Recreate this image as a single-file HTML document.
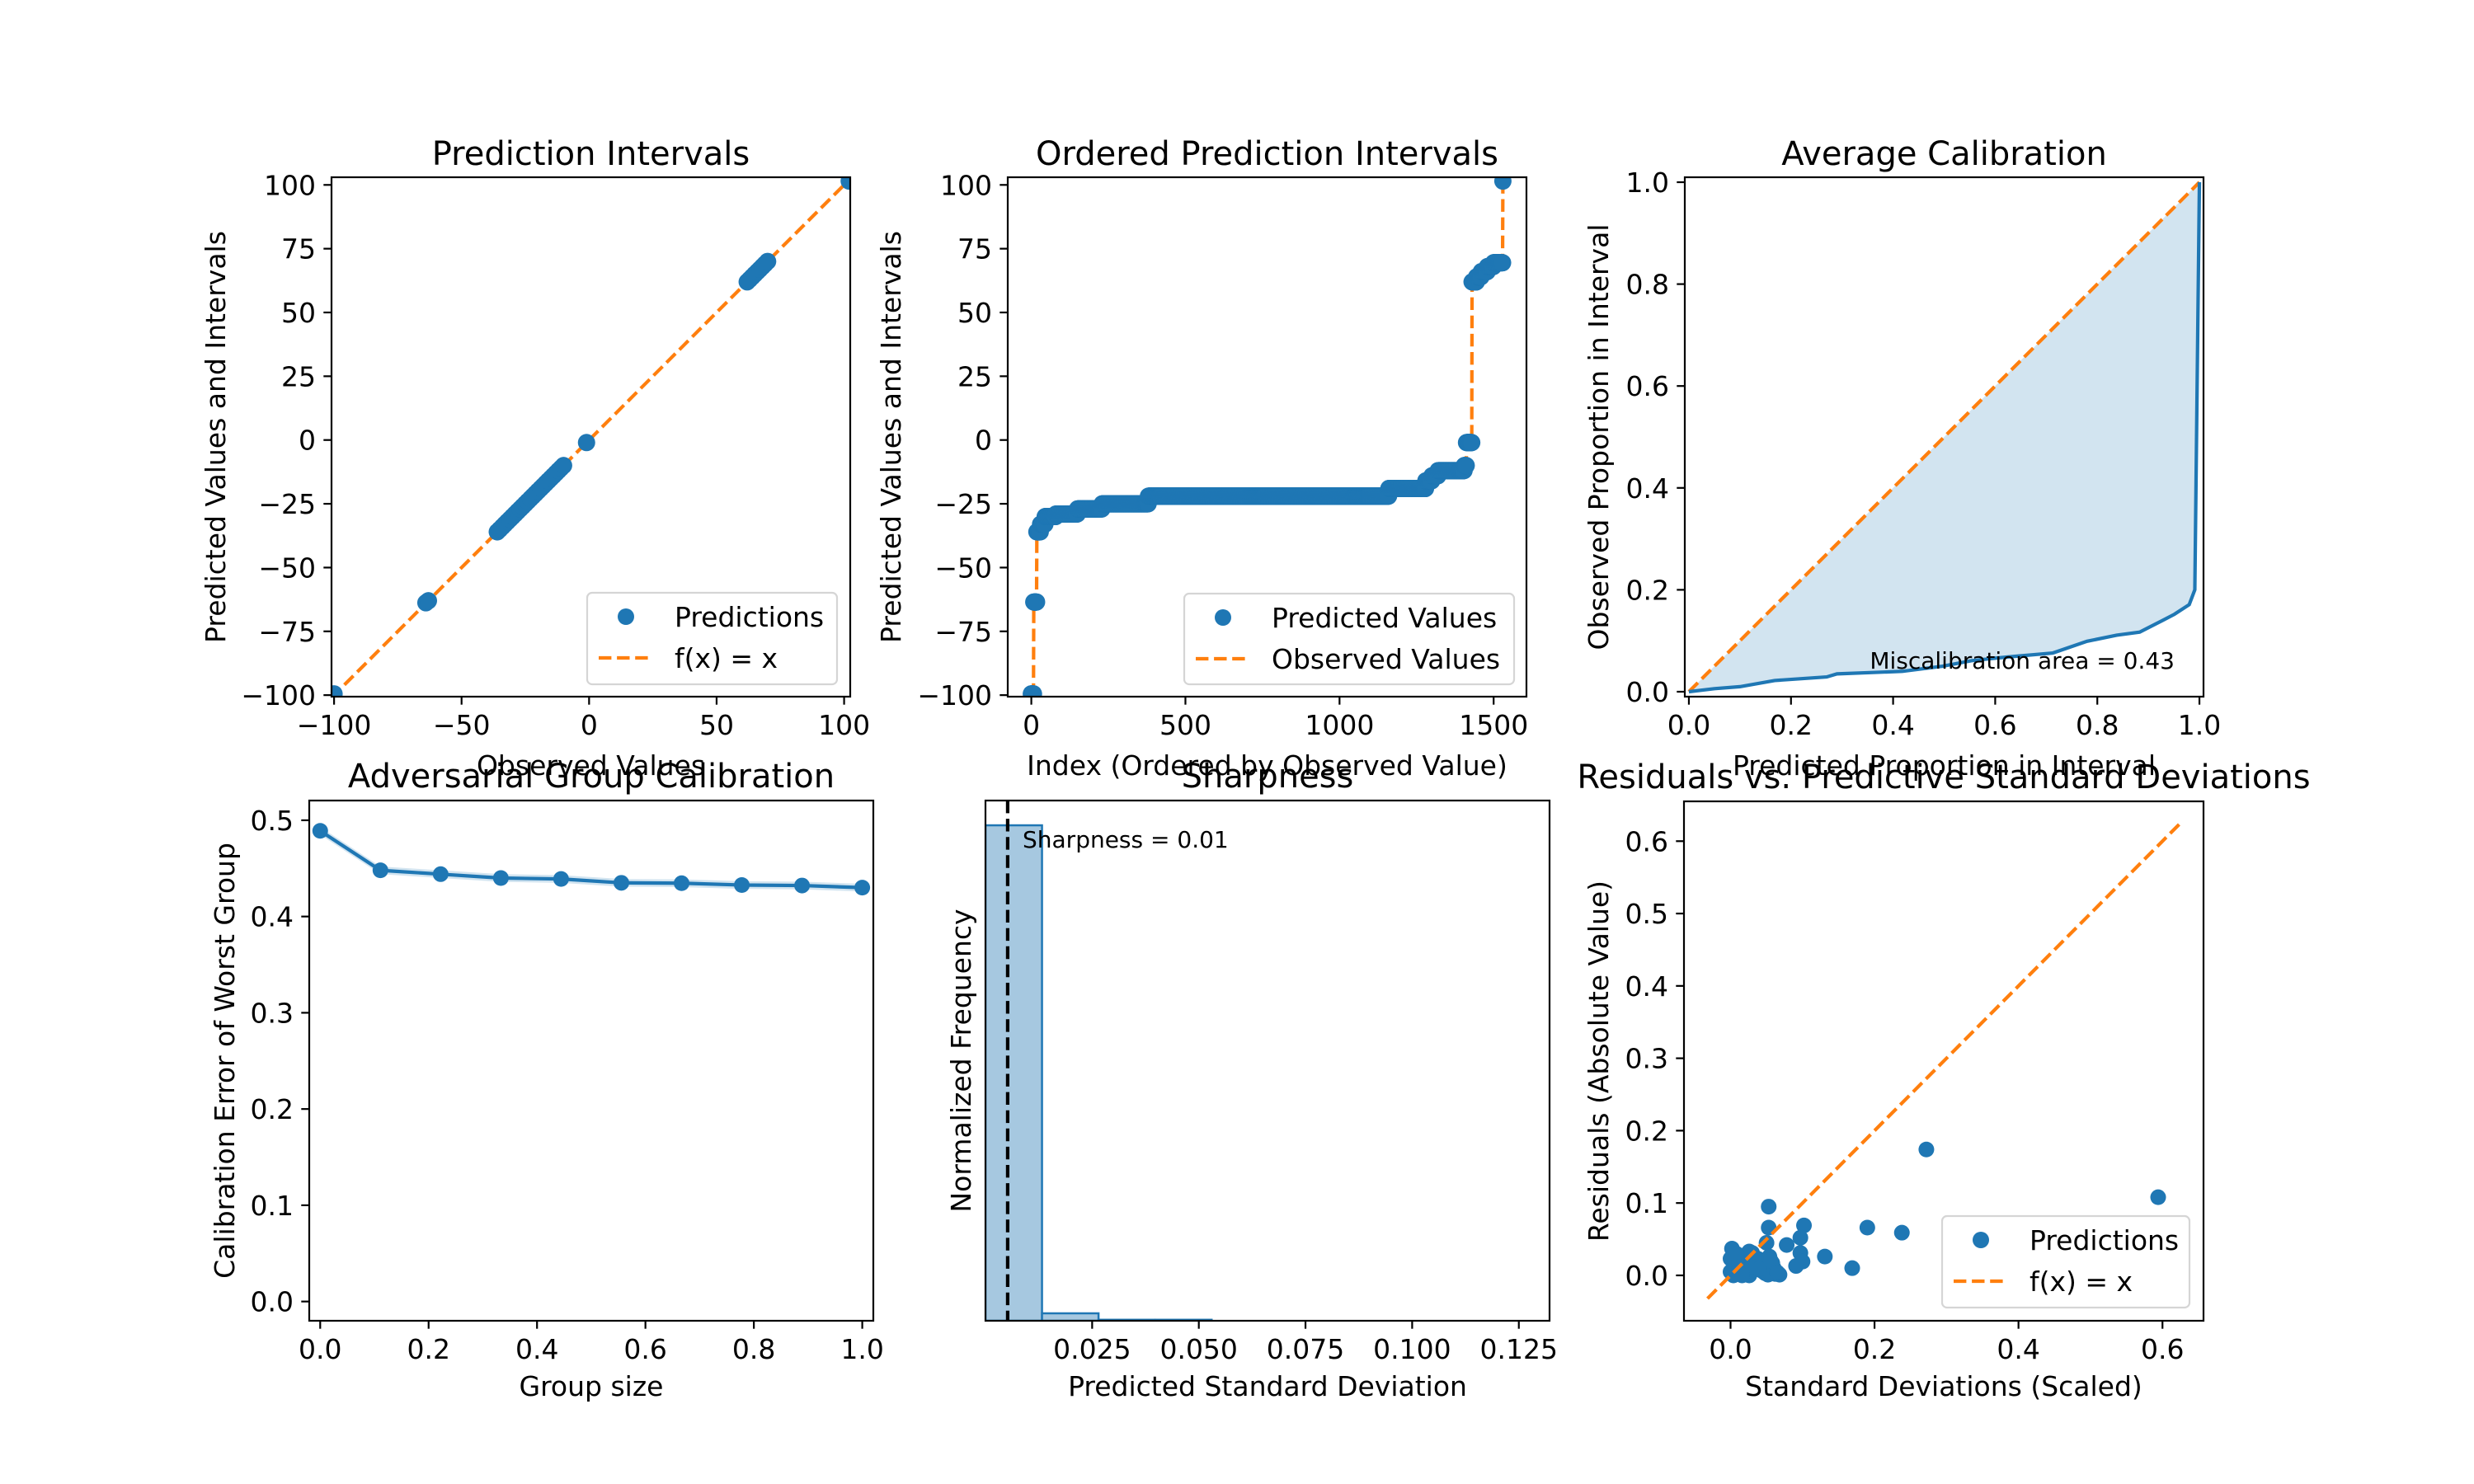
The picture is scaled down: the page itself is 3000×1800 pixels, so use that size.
<!DOCTYPE html>
<html><head><meta charset="utf-8"><title>Calibration diagnostics</title>
<style>
html,body{margin:0;padding:0;background:#fff;}
svg{display:block;font-family:"DejaVu Sans","Liberation Sans",sans-serif;}
</style></head>
<body>
<svg id="fig" xmlns="http://www.w3.org/2000/svg" width="3000" height="1800" viewBox="0 0 3000 1800">
<rect x="0" y="0" width="3000" height="1800" fill="#fff"/>
</svg>
<script>
// ---------- data ----------
const p1Observed = [-100,-64,-63,-36,-35,-34,-33,-32,-31,-30,-29,-28,-27,-26,-25,-24,-23,-22,-21,-20,-19,-18,-17,-16,-15,-14,-13,-12,-11,-10,-1,62,63,64,65,66,67,68,69,70,102];
const p1Predicted = [-99.5,-63.8,-63,-36,-35,-34,-33,-32,-31,-30,-29,-28,-27,-26,-25,-24,-23,-22,-21,-20,-19,-18,-17,-16,-15,-14,-13,-12,-11,-10,-1,62,63,64,65,66,67,68,69,70,101.5];
const p1XTicks = [-100,-50,0,50,100];
const p1YTicks = [-100,-75,-50,-25,0,25,50,75,100];
const p2RunStart = [0,8,18,30,45,80,150,230,380,1160,1280,1300,1320,1405,1412,1430,1445,1460,1480,1500,1530];
const p2RunEnd   = [7,17,29,44,79,149,229,379,1159,1279,1299,1319,1404,1411,1429,1444,1459,1479,1499,1529,1530];
const p2RunValue = [-99.5,-63.5,-36,-33,-30,-29,-27,-25,-22,-19,-16,-14,-12,-10,-1,62,64,66,68,69.5,101.5];
const p2XTicks = [0,500,1000,1500];
const p3Expected = [0,0.05,0.1,0.168,0.27,0.29,0.418,0.497,0.554,0.622,0.713,0.78,0.838,0.883,0.928,0.951,0.98,0.991,1.0];
const p3Observed = [0,0.006,0.0099,0.022,0.029,0.035,0.04,0.05,0.061,0.068,0.076,0.099,0.111,0.117,0.14,0.152,0.171,0.2,1.0];
const p3Ticks = [0,0.2,0.4,0.6,0.8,1.0];
const p4GroupSize = [0,0.1111,0.2222,0.3333,0.4444,0.5556,0.6667,0.7778,0.8889,1.0];
const p4CalError  = [0.489,0.448,0.444,0.440,0.439,0.435,0.4346,0.4327,0.4322,0.430];
const p4XTicks = [0,0.2,0.4,0.6,0.8,1.0];
const p4YTicks = [0,0.1,0.2,0.3,0.4,0.5];
const p5BinEdges = [0,0.01325,0.0265,0.03975,0.053,0.06625,0.0795,0.09275,0.106,0.11925,0.1325];
const p5Heights  = [1.0,0.015,0.002,0.002,0,0,0,0,0,0];
const p5Sharpness = 0.0052;
const p5XTicks = [0.025,0.050,0.075,0.100,0.125];
const p6Std = [0.272,0.594,0.19,0.238,0.131,0.169,0.102,0.097,0.097,0.1,0.091,0.078,0.053,0.053,0.05,0.002,0,0,0.004,0.014,0.022,0.026,0.03,0.038,0.046,0.054,0.058,0.062,0.068,0.052,0.01,0.034,0.018,0.042,0.006,0.026,0.048,0.06,0.012,0.036,0.02,0.044,0.008,0.03,0.056,0.065,0.016,0.04];
const p6Resid = [0.174,0.108,0.066,0.059,0.026,0.010,0.069,0.052,0.031,0.019,0.013,0.042,0.095,0.066,0.045,0.037,0.023,0.005,0.0,0.011,0.017,0.0,0.031,0.023,0.011,0.026,0.017,0.002,0.001,0.001,0.026,0.008,0.005,0.015,0.015,0.033,0.003,0.01,0.02,0.018,0.028,0.006,0.03,0.012,0.02,0.004,0.0,0.009];
const p6Ticks = [0,0.1,0.2,0.3,0.4,0.5,0.6];
const p6XTicks = [0,0.2,0.4,0.6];

// ---------- helpers ----------
const NS = "http://www.w3.org/2000/svg";
const svg = document.getElementById('fig');
const BLUE = "#1f77b4", ORANGE = "#ff7f0e";
const FT = 33, FTITLE = 40, FANN = 28;
function mk(parent, tag, attrs, name, inter) {
  const e = document.createElementNS(NS, tag);
  for (const k in attrs) e.setAttribute(k, attrs[k]);
  
  
  parent.appendChild(e);
  return e;
}
function txt(parent, x, y, s, size, anchor, name, extra) {
  const a = Object.assign({x:x, y:y, 'font-size':size, 'text-anchor':anchor||'middle', fill:'#000'}, extra||{});
  const t = mk(parent, 'text', a, name, false);
  t.textContent = s;
  return t;
}
function fmt(v, d) { const s = Math.abs(v).toFixed(d); return (v < 0 ? "\u2212" : "") + s; }
function axes(id, L, R, T, B, xlim, ylim) {
  const g = mk(svg, 'g', {}, id, false);
  const sx = v => L + (v - xlim[0]) / (xlim[1] - xlim[0]) * (R - L);
  const sy = v => B - (v - ylim[0]) / (ylim[1] - ylim[0]) * (B - T);
  const clipId = id + '-clip';
  const cp = mk(g, 'clipPath', {id: clipId}, id + '-clip-region', false);
  mk(cp, 'rect', {x:L, y:T, width:R-L, height:B-T}, id + '-clip-rect', false);
  const plot = mk(g, 'g', {'clip-path': 'url(#' + clipId + ')'}, id + '-plot-area', false);
  return {g, plot, sx, sy, L, R, T, B};
}
function frame(ax, id) {
  mk(ax.g, 'rect', {x:ax.L, y:ax.T, width:ax.R-ax.L, height:ax.B-ax.T, fill:'none', stroke:'#000', 'stroke-width':2.2}, id + '-frame', false);
}
function xticks(ax, ticks, dec, id) {
  ticks.forEach(v => {
    const x = ax.sx(v);
    mk(ax.g, 'line', {x1:x, x2:x, y1:ax.B, y2:ax.B+9.7, stroke:'#000', 'stroke-width':2.2}, id + '-x-tick', false);
    txt(ax.g, x, ax.B + 46, fmt(v, dec), FT, 'middle', id + '-x-tick-label');
  });
}
function yticks(ax, ticks, dec, id) {
  ticks.forEach(v => {
    const y = ax.sy(v);
    mk(ax.g, 'line', {x1:ax.L-9.7, x2:ax.L, y1:y, y2:y, stroke:'#000', 'stroke-width':2.2}, id + '-y-tick', false);
    txt(ax.g, ax.L - 19, y + 12, fmt(v, dec), FT, 'end', id + '-y-tick-label');
  });
}
function ylabel(ax, x, s, id) {
  const cy = (ax.T + ax.B) / 2;
  txt(ax.g, x, cy, s, FT, 'middle', id + '-y-axis-title', {transform: 'rotate(-90 ' + x + ' ' + cy + ')'});
}
function legend(parent, x, y, w, h, entries, id) {
  const lg = mk(parent, 'g', {}, id, true);
  mk(lg, 'rect', {x:x, y:y, width:w, height:h, rx:6, fill:'#fff', 'fill-opacity':0.8, stroke:'#d5d5d5', 'stroke-width':2.2}, id + '-box', false);
  entries.forEach((en, i) => {
    const cy = y + 29 + i * 50;
    if (en.type === 'marker') {
      mk(lg, 'circle', {cx:x + 47, cy:cy, r:10, fill:BLUE}, id + '-marker-swatch', false);
    } else {
      mk(lg, 'line', {x1:x + 14, x2:x + 74, y1:cy, y2:cy, stroke:ORANGE, 'stroke-width':4.2, 'stroke-dasharray':'15.4 6.7'}, id + '-line-swatch', false);
    }
    txt(lg, x + 106, cy + 12, en.label, FT, 'start', id + '-entry-label');
  });
}

// ---------- Panel 1 ----------
(function(){
  const ax = axes('panel-prediction-intervals', 402, 1031, 215, 845, [-101, 102.4], [-100.6, 103]);
  mk(ax.plot, 'line', {x1:ax.sx(-101), y1:ax.sy(-101), x2:ax.sx(103), y2:ax.sy(103), stroke:ORANGE, 'stroke-width':4.2, 'stroke-dasharray':'15.4 6.7'}, 'identity-line', false);
  p1Observed.forEach((v, i) => {
    mk(ax.plot, 'circle', {cx:ax.sx(v), cy:ax.sy(p1Predicted[i]), r:10.5, fill:BLUE}, 'prediction-point', false);
  });
  frame(ax, 'panel-1');
  xticks(ax, p1XTicks, 0, 'panel-1');
  yticks(ax, p1YTicks, 0, 'panel-1');
  txt(ax.g, 716.5, 200, 'Prediction Intervals', FTITLE, 'middle', 'panel-1-title');
  txt(ax.g, 716.5, 940, 'Observed Values', FT, 'middle', 'panel-1-x-axis-title');
  ylabel(ax, 273, 'Predicted Values and Intervals', 'panel-1');
  legend(ax.g, 712, 719, 303, 111, [{type:'marker', label:'Predictions'}, {type:'line', label:'f(x) = x'}], 'panel-1-legend');
})();

// ---------- Panel 2 ----------
(function(){
  const ax = axes('panel-ordered-intervals', 1222, 1851, 215, 845, [-76.5, 1606.5], [-100.6, 103]);
  let d = '';
  p2RunStart.forEach((s, i) => {
    const x1 = ax.sx(s), x2 = ax.sx(p2RunEnd[i]), y = ax.sy(p2RunValue[i]);
    d += (i === 0 ? 'M' : 'L') + x1 + ' ' + y + ' L' + x2 + ' ' + y + ' ';
  });
  mk(ax.plot, 'path', {d:d, fill:'none', stroke:ORANGE, 'stroke-width':4.2, 'stroke-dasharray':'15.4 6.7'}, 'observed-values-line', false);
  p2RunStart.forEach((s, i) => {
    for (let k = s; k <= p2RunEnd[i]; k++) {
      mk(ax.plot, 'circle', {cx:ax.sx(k), cy:ax.sy(p2RunValue[i]), r:10.5, fill:BLUE}, 'predicted-value-point', false);
    }
  });
  frame(ax, 'panel-2');
  xticks(ax, p2XTicks, 0, 'panel-2');
  yticks(ax, p1YTicks, 0, 'panel-2');
  txt(ax.g, 1536.5, 200, 'Ordered Prediction Intervals', FTITLE, 'middle', 'panel-2-title');
  txt(ax.g, 1536.5, 940, 'Index (Ordered by Observed Value)', FT, 'middle', 'panel-2-x-axis-title');
  ylabel(ax, 1092, 'Predicted Values and Intervals', 'panel-2');
  legend(ax.g, 1436, 720, 400, 110, [{type:'marker', label:'Predicted Values'}, {type:'line', label:'Observed Values'}], 'panel-2-legend');
})();

// ---------- Panel 3 ----------
(function(){
  const ax = axes('panel-average-calibration', 2043, 2672, 215, 845, [-0.008, 1.008], [-0.0097, 1.0097]);
  let fillD = 'M' + ax.sx(0) + ' ' + ax.sy(0) + ' L' + ax.sx(1) + ' ' + ax.sy(1) + ' ';
  for (let i = p3Expected.length - 1; i >= 0; i--) fillD += 'L' + ax.sx(p3Expected[i]) + ' ' + ax.sy(p3Observed[i]) + ' ';
  mk(ax.plot, 'path', {d:fillD + 'Z', fill:BLUE, 'fill-opacity':0.2}, 'miscalibration-area', false);
  mk(ax.plot, 'line', {x1:ax.sx(0), y1:ax.sy(0), x2:ax.sx(1), y2:ax.sy(1), stroke:ORANGE, 'stroke-width':4.2, 'stroke-dasharray':'15.4 6.7'}, 'ideal-calibration-line', false);
  const pts = p3Expected.map((v, i) => ax.sx(v) + ',' + ax.sy(p3Observed[i])).join(' ');
  mk(ax.plot, 'polyline', {points:pts, fill:'none', stroke:BLUE, 'stroke-width':4.2}, 'calibration-curve', false);
  frame(ax, 'panel-3');
  xticks(ax, p3Ticks, 1, 'panel-3');
  yticks(ax, p3Ticks, 1, 'panel-3');
  txt(ax.g, 2637, 811, 'Miscalibration area = 0.43', FANN, 'end', 'miscalibration-annotation');
  txt(ax.g, 2357.5, 200, 'Average Calibration', FTITLE, 'middle', 'panel-3-title');
  txt(ax.g, 2357.5, 940, 'Predicted Proportion in Interval', FT, 'middle', 'panel-3-x-axis-title');
  ylabel(ax, 1950, 'Observed Proportion in Interval', 'panel-3');
})();

// ---------- Panel 4 ----------
(function(){
  const ax = axes('panel-adversarial-group', 375, 1059, 971, 1602, [-0.0202, 1.0204], [-0.02, 0.5205]);
  let up = '', dn = '';
  p4GroupSize.forEach((v, i) => { up += (i ? 'L' : 'M') + ax.sx(v) + ' ' + ax.sy(p4CalError[i] + 0.004) + ' '; });
  for (let i = p4GroupSize.length - 1; i >= 0; i--) dn += 'L' + ax.sx(p4GroupSize[i]) + ' ' + ax.sy(p4CalError[i] - 0.004) + ' ';
  mk(ax.plot, 'path', {d:up + dn + 'Z', fill:BLUE, 'fill-opacity':0.2}, 'error-band', false);
  const pts = p4GroupSize.map((v, i) => ax.sx(v) + ',' + ax.sy(p4CalError[i])).join(' ');
  mk(ax.plot, 'polyline', {points:pts, fill:'none', stroke:BLUE, 'stroke-width':4.2}, 'calibration-error-line', false);
  p4GroupSize.forEach((v, i) => {
    mk(ax.plot, 'circle', {cx:ax.sx(v), cy:ax.sy(p4CalError[i]), r:9.5, fill:BLUE}, 'calibration-error-point', false);
  });
  frame(ax, 'panel-4');
  xticks(ax, p4XTicks, 1, 'panel-4');
  yticks(ax, p4YTicks, 1, 'panel-4');
  txt(ax.g, 717, 955, 'Adversarial Group Calibration', FTITLE, 'middle', 'panel-4-title');
  txt(ax.g, 717, 1693, 'Group size', FT, 'middle', 'panel-4-x-axis-title');
  ylabel(ax, 284, 'Calibration Error of Worst Group', 'panel-4');
})();

// ---------- Panel 5 ----------
(function(){
  const ax = axes('panel-sharpness', 1195, 1879, 971, 1602, [0, 0.1322], [0, 1.05]);
  p5Heights.forEach((h, i) => {
    if (h <= 0) return;
    const x1 = ax.sx(p5BinEdges[i]), x2 = ax.sx(p5BinEdges[i+1]);
    mk(ax.plot, 'rect', {x:x1, y:ax.sy(h), width:x2-x1, height:ax.B-ax.sy(h), fill:'#a6c8e0', stroke:BLUE, 'stroke-width':2.5}, 'histogram-bar', false);
  });
  mk(ax.plot, 'line', {x1:ax.sx(p5Sharpness), x2:ax.sx(p5Sharpness), y1:ax.T, y2:ax.B, stroke:'#000', 'stroke-width':4.2, 'stroke-dasharray':'15.4 6.7'}, 'sharpness-line', false);
  frame(ax, 'panel-5');
  xticks(ax, p5XTicks, 3, 'panel-5');
  txt(ax.g, 1240, 1028, 'Sharpness = 0.01', FANN, 'start', 'sharpness-annotation');
  txt(ax.g, 1537, 955, 'Sharpness', FTITLE, 'middle', 'panel-5-title');
  txt(ax.g, 1537, 1693, 'Predicted Standard Deviation', FT, 'middle', 'panel-5-x-axis-title');
  ylabel(ax, 1177, 'Normalized Frequency', 'panel-5');
})();

// ---------- Panel 6 ----------
(function(){
  const ax = axes('panel-residuals-vs-std', 2042, 2672, 972, 1602, [-0.0647, 0.657], [-0.0627, 0.655]);
  p6Std.forEach((v, i) => {
    mk(ax.plot, 'circle', {cx:ax.sx(v), cy:ax.sy(p6Resid[i]), r:9.5, fill:BLUE}, 'residual-point', false);
  });
  mk(ax.plot, 'line', {x1:ax.sx(-0.032), y1:ax.sy(-0.032), x2:ax.sx(0.626), y2:ax.sy(0.626), stroke:ORANGE, 'stroke-width':4.2, 'stroke-dasharray':'15.4 6.7'}, 'identity-line', false);
  frame(ax, 'panel-6');
  xticks(ax, p6XTicks, 1, 'panel-6');
  yticks(ax, p6Ticks, 1, 'panel-6');
  txt(ax.g, 2357, 956, 'Residuals vs. Predictive Standard Deviations', FTITLE, 'middle', 'panel-6-title');
  txt(ax.g, 2357, 1693, 'Standard Deviations (Scaled)', FT, 'middle', 'panel-6-x-axis-title');
  ylabel(ax, 1950, 'Residuals (Absolute Value)', 'panel-6');
  legend(ax.g, 2355, 1475, 300, 111, [{type:'marker', label:'Predictions'}, {type:'line', label:'f(x) = x'}], 'panel-6-legend');
})();
</script>
</body></html>
